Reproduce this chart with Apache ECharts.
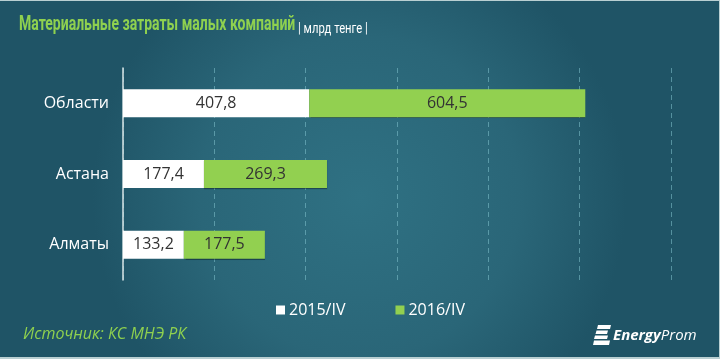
<!DOCTYPE html>
<html><head><meta charset="utf-8">
<script src="https://cdn.jsdelivr.net/npm/echarts@6/dist/echarts.min.js"></script>
<style>html,body{margin:0;padding:0;background:#1f5565;}#c{width:720px;height:359px;box-sizing:border-box;border:1px solid #b9cfd2;border-left:none;border-bottom:2px solid #b9cfd2;}</style>
</head><body><div id="c"></div>
<script>
const categories = ['Области', 'Астана', 'Алматы'];
const series2015 = [407.8, 177.4, 133.2];
const series2016 = [604.5, 269.3, 177.5];
const seriesNames = ['2015/IV', '2016/IV'];
const titleText = 'Материальные затраты малых компаний';
const unitText = '| млрд тенге |';
const sourceText = 'Источник: КС МНЭ РК';

const FONT = '"Open Sans", sans-serif';
const TFONT = 'Roboto, "Open Sans", sans-serif';
const chart = echarts.init(document.getElementById('c'));
const fmt = p => String(p.value).replace('.', ',');
chart.setOption({
  backgroundColor: {type:'radial', x:0.5, y:0.55, r:0.75, colorStops:[{offset:0,color:'#2f7183'},{offset:0.6,color:'#2a6678'},{offset:1,color:'#1f5466'}]},
  textStyle: {fontFamily: FONT},
  legend: {
    bottom: 34, left: 271,
    icon: 'rect', itemWidth: 9, itemHeight: 9, itemGap: 50, itemStyle: {borderWidth: 0},
    textStyle: {color: '#ffffff', fontSize: 16, fontFamily: FONT, padding: [0, 0, 0, -1]},
    data: seriesNames
  },
  grid: {left: 123, right: 48, top: 67, bottom: 77, containLabel: false},
  xAxis: {
    type: 'value', min: 0, max: 1200, interval: 200,
    axisLabel: {show: false}, axisLine: {show: false}, axisTick: {show: false},
    splitLine: {show: true, lineStyle: {color: 'rgba(130,195,205,0.55)', type: [5, 4], width: 1}}
  },
  yAxis: {
    type: 'category', data: categories, inverse: true,
    axisLine: {show: true, lineStyle: {color: '#d8e4e6', width: 1.5}},
    axisTick: {show: false},
    axisLabel: {color: '#ffffff', fontSize: 16, margin: 14, fontFamily: FONT}
  },
  series: [
    {name: seriesNames[0], type: 'bar', stack: 's', data: series2015, barWidth: 28,
     itemStyle: {color: '#ffffff'},
     label: {show: true, position: 'inside', color: '#333333', fontSize: 16, fontFamily: FONT, formatter: fmt}},
    {name: seriesNames[1], type: 'bar', stack: 's', data: series2016, barWidth: 28,
     itemStyle: {color: '#92d050', shadowColor: 'rgba(0,0,0,0.35)', shadowOffsetY: 1, shadowBlur: 1},
     label: {show: true, position: 'inside', color: '#333333', fontSize: 16, fontFamily: FONT, formatter: fmt}}
  ],
  graphic: [
    {type: 'text', x: 19, y: 14, scaleX: 0.70, style: {text: titleText, fill: '#8fd14f', font: 'bold 20px ' + TFONT, textVerticalAlign: 'top'}},
    {type: 'text', x: 298, y: 21, scaleX: 0.75, style: {text: unitText, fill: '#ffffff', font: '15px ' + TFONT, textVerticalAlign: 'top'}},
    {type: 'text', left: 23, top: 325, style: {text: sourceText, fill: '#8fd14f', font: 'italic 16px ' + FONT}},
    {type: 'group', left: 593, top: 324, children: [
      {type: 'polygon', shape: {points: [[5,0],[18,0],[17,4],[4,4]]}, style: {fill: '#ffffff'}},
      {type: 'polygon', shape: {points: [[3.5,5.5],[15,5.5],[14,9],[2.5,9]]}, style: {fill: '#ffffff'}},
      {type: 'polygon', shape: {points: [[2,10.5],[15,10.5],[14,14],[1,14]]}, style: {fill: '#ffffff'}},
      {type: 'polygon', shape: {points: [[1,15.5],[17,15.5],[16,20],[0,20]]}, style: {fill: '#ffffff'}},
      {type: 'text', x: 20, y: 3, style: {text: '{e|Energy}{p|Prom}', fill: '#ffffff',
        rich: {e: {font: 'italic bold 15px ' + FONT, fill: '#ffffff'}, p: {font: 'italic 15px ' + FONT, fill: '#ffffff'}}}}
    ]}
  ]
});
</script></body></html>
